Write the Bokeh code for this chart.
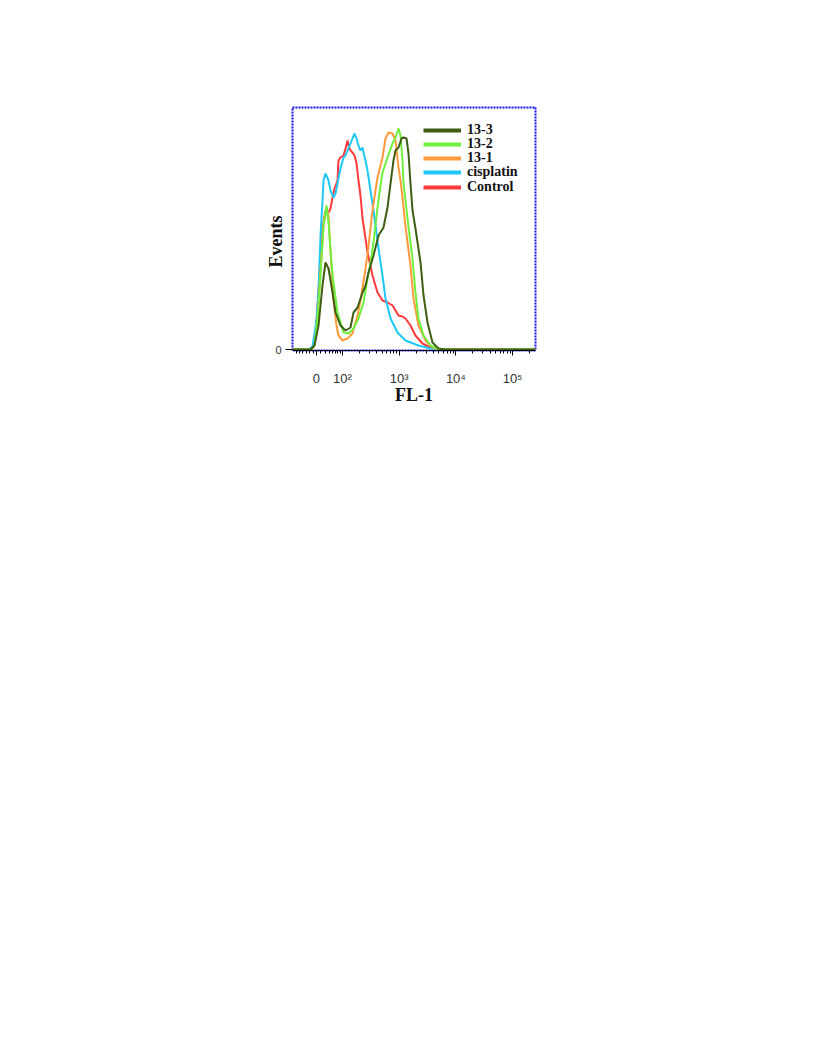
import math
from bokeh.plotting import figure
from bokeh.models import (Range1d, FixedTicker, Legend, LegendItem, Title,
                          ColumnDataSource)
from bokeh.embed import file_html
from bokeh.resources import INLINE

# FL-1 on display scale (1 unit = one decade on the log part of the axis)
tick_pos = [1.54, 2, 3, 4, 5]
tick_labels = ["0", "10\u00b2", "10\u00b3", "10\u2074", "10\u2075"]

series_names = ["13-3", "13-2", "13-1", "cisplatin", "Control"]
series_colors = ["#3d5e12", "#6ef03c", "#ff9a3c", "#1ec8f5", "#ff3a3a"]

x_133 = [1.118, 1.436, 1.506, 1.577, 1.647, 1.700, 1.753, 1.824, 1.877, 1.965, 2.053, 2.141, 2.194,
         2.265, 2.353, 2.406, 2.459, 2.547, 2.635, 2.723, 2.794, 2.847, 2.899, 2.935, 2.988, 3.041,
         3.076, 3.129, 3.164, 3.199, 3.235, 3.287, 3.376, 3.429, 3.499, 3.587, 3.693, 3.816, 5.404]
y_133 = [0, 0, 4, 24, 64, 87, 81, 57, 37, 24, 19, 22, 37,
         42, 57, 64, 77, 94, 114, 122, 142, 166, 189, 199, 202, 211,
         212, 211, 196, 166, 139, 121, 87, 54, 27, 7, 1, 0, 0]

x_132 = [1.118, 1.453, 1.506, 1.559, 1.612, 1.665, 1.718, 1.753, 1.788, 1.824, 1.912, 2.018, 2.106,
         2.194, 2.282, 2.370, 2.441, 2.494, 2.547, 2.600, 2.653, 2.705, 2.794, 2.882, 2.935, 2.988,
         3.023, 3.058, 3.076, 3.111, 3.164, 3.235, 3.287, 3.340, 3.429, 3.552, 3.675, 3.816, 5.404]
y_132 = [0, 0, 4, 31, 74, 124, 144, 127, 99, 74, 37, 17, 16,
         21, 31, 47, 71, 87, 107, 134, 157, 177, 192, 206, 212, 221,
         214, 189, 166, 149, 122, 91, 57, 31, 14, 4, 1, 0, 0]

x_131 = [1.118, 1.453, 1.506, 1.559, 1.612, 1.665, 1.718, 1.753, 1.788, 1.841, 1.894, 1.929, 2.000,
         2.088, 2.176, 2.229, 2.265, 2.317, 2.406, 2.459, 2.529, 2.582, 2.617, 2.670, 2.705, 2.758,
         2.811, 2.882, 2.935, 2.988, 3.023, 3.058, 3.111, 3.199, 3.252, 3.340, 3.464, 3.587, 3.728, 5.404]
y_131 = [0, 0, 4, 29, 79, 124, 142, 134, 99, 49, 24, 14, 9,
         11, 16, 27, 34, 49, 81, 104, 139, 159, 172, 184, 192, 211,
         217, 216, 209, 182, 169, 152, 123, 84, 51, 24, 9, 2, 0, 0]

x_cis = [1.118, 1.400, 1.471, 1.541, 1.577, 1.612, 1.647, 1.665, 1.700, 1.753, 1.788, 1.841, 1.877,
         1.929, 1.965, 2.018, 2.053, 2.088, 2.141, 2.176, 2.212, 2.247, 2.265, 2.300, 2.317, 2.353,
         2.370, 2.406, 2.441, 2.494, 2.547, 2.582, 2.635, 2.705, 2.758, 2.847, 2.970, 3.111, 3.340,
         3.552, 3.728, 5.404]
y_cis = [0, 0, 3, 29, 59, 114, 149, 169, 176, 169, 159, 152, 156,
         171, 181, 192, 194, 199, 206, 211, 216, 211, 207, 201, 199, 202,
         197, 189, 179, 159, 139, 124, 101, 74, 51, 31, 17, 9, 4,
         1, 0, 0]

x_ctl = [1.118, 1.436, 1.489, 1.541, 1.577, 1.612, 1.647, 1.700, 1.753, 1.788, 1.824, 1.859, 1.912,
         1.929, 1.965, 2.018, 2.053, 2.088, 2.106, 2.141, 2.176, 2.212, 2.247, 2.282, 2.317, 2.353,
         2.406, 2.441, 2.529, 2.617, 2.705, 2.794, 2.882, 2.935, 2.988, 3.058, 3.111, 3.199, 3.287,
         3.411, 3.552, 3.728, 5.404]
y_ctl = [0, 0, 3, 27, 59, 94, 121, 139, 137, 141, 152, 161, 169,
         189, 192, 194, 201, 209, 204, 199, 197, 194, 186, 169, 154, 131,
         111, 97, 74, 57, 49, 47, 44, 39, 34, 33, 31, 24, 14,
         6, 2, 0, 0]

xs = [x_133, x_132, x_131, x_cis, x_ctl]
ys = [y_133, y_132, y_131, y_cis, y_ctl]

p = figure(frame_width=243, frame_height=243,
           x_range=Range1d(1.118, 5.404), y_range=Range1d(-1, 242),
           output_backend="svg", toolbar_location=None,
           min_border_left=292, min_border_top=107, min_border_right=10,
           min_border_bottom=60)
p.xgrid.visible = False
p.ygrid.visible = False
p.background_fill_color = "white"
p.border_fill_color = "white"
p.outline_line_color = "#1515ee"
p.outline_line_width = 2
p.outline_line_dash = "2 1"

# draw curves: Control first, 13-3 last (on top)
for i in reversed(range(len(series_names))):
    src = ColumnDataSource(dict(x=xs[i], y=ys[i]))
    p.line("x", "y", source=src, line_color=series_colors[i], line_width=2)

# legend: one single-row legend per series so rows sit 14 px apart
legend_y = [212, 198, 184, 170, 155]
for i, name in enumerate(series_names):
    r = p.line([xs[i][-1], xs[i][-1]], [ys[i][-1], ys[i][-1]],
               line_color=series_colors[i], line_width=4)
    lg = Legend(items=[LegendItem(label=name, renderers=[r])],
                location=(131, legend_y[i]), padding=0, margin=0,
                spacing=0, glyph_width=38, glyph_height=14, label_height=14,
                label_standoff=6, border_line_alpha=0, background_fill_alpha=0,
                label_text_font="Liberation Serif", label_text_font_style="bold",
                label_text_font_size="14px", label_text_color="#111111")
    p.add_layout(lg)

# x axis
minor = [1.18, 1.24, 1.30, 1.36, 1.42, 1.48, 1.62, 1.70, 1.77, 1.83, 1.88, 1.92, 1.96]
for d in (2, 3, 4, 5):
    for k in range(2, 10):
        v = d + math.log10(k)
        if v < 5.4:
            minor.append(v)
p.xaxis.ticker = FixedTicker(ticks=tick_pos, minor_ticks=minor)
p.xaxis.major_label_overrides = {t: l for t, l in zip(tick_pos, tick_labels)}
p.xaxis.major_label_text_font = "Liberation Sans"
p.xaxis.major_label_text_font_size = "13px"
p.xaxis.major_label_text_color = "#333333"
p.xaxis.major_label_standoff = 15
p.xaxis.major_tick_out = 5
p.xaxis.major_tick_in = 0
p.xaxis.minor_tick_out = 3
p.xaxis.minor_tick_in = 0
p.xaxis.axis_line_color = "black"
p.xaxis.axis_label = "FL-1"
p.xaxis.axis_label_text_font = "Liberation Serif"
p.xaxis.axis_label_text_font_style = "bold"
p.xaxis.axis_label_text_font_size = "18px"
p.xaxis.axis_label_text_color = "#111111"
p.xaxis.axis_label_standoff = -4

# y axis
p.yaxis.ticker = FixedTicker(ticks=[0])
p.yaxis.major_label_text_font = "Liberation Sans"
p.yaxis.major_label_text_font_size = "11px"
p.yaxis.major_label_text_color = "#333333"
p.yaxis.major_tick_out = 7
p.yaxis.major_tick_in = 0
p.yaxis.minor_tick_line_color = None
p.yaxis.axis_line_color = None
p.yaxis.major_label_standoff = 4

p.add_layout(Title(text="Events", align="left", offset=83, standoff=-27,
                   text_font="Liberation Serif", text_font_style="bold",
                   text_font_size="18px", text_color="#111111"), "left")

open("out.html", "w").write(file_html(p, INLINE))
